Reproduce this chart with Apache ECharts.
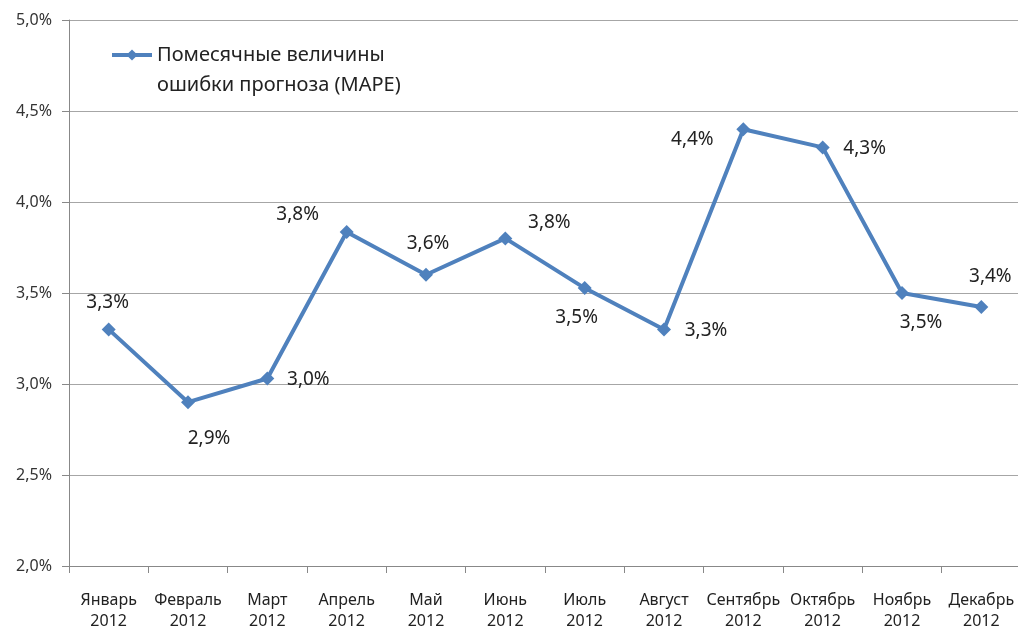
<!DOCTYPE html>
<html><head><meta charset="utf-8">
<script src="https://cdn.jsdelivr.net/npm/echarts@6/dist/echarts.min.js"></script>
<style>html,body{margin:0;padding:0;background:#fff}#c{width:1018px;height:628px}</style>
</head><body><div id="c"></div>
<script>
const months = ['Январь','Февраль','Март','Апрель','Май','Июнь','Июль','Август','Сентябрь','Октябрь','Ноябрь','Декабрь'];
const year = '2012';
const mape = [3.30, 2.90, 3.03, 3.835, 3.60, 3.80, 3.527, 3.30, 4.40, 4.30, 3.50, 3.423];
const seriesName = 'Помесячные величины\nошибки прогноза (MAPE)';
const yTicks = [2.0, 2.5, 3.0, 3.5, 4.0, 4.5, 5.0];

// label offsets from the marker centre (style only)
const labelShift = [
  [-1,-27],[21,36],[41,1],[-49,-17],[2,-31],[44,-16],
  [-8,30],[42,1],[-51,10],[42,1],[19,30],[9,-30]
];
const fmt = v => v.toFixed(1).replace('.', ',') + '%';
const FONT = 'Noto Sans';
const chart = echarts.init(document.getElementById('c'), null, {renderer:'canvas'});
chart.setOption({
  animation:false,
  textStyle:{fontFamily:FONT},
  grid:{left:69, width:952, top:20, bottom:62, containLabel:false, outerBoundsMode:'none'},
  legend:{
    left:105, top:5, orient:'vertical',
    itemWidth:40, itemHeight:14,
    data:[seriesName],
    formatter: n => ' \n' + n,
    lineStyle:{width:4},
    textStyle:{fontFamily:FONT, fontSize:20, color:'#222', lineHeight:30}
  },
  xAxis:{
    type:'category', data: months.map(m => m + '\n' + year),
    boundaryGap:true,
    axisLine:{lineStyle:{color:'#888', width:1}},
    axisTick:{show:true, length:7, lineStyle:{color:'#888'}},
    axisLabel:{interval:0, fontFamily:FONT, fontSize:16, color:'#222', lineHeight:21, margin:24},
    splitLine:{show:false}
  },
  yAxis:{
    type:'value', min:yTicks[0], max:yTicks[yTicks.length-1], interval:0.5,
    axisLine:{show:true, lineStyle:{color:'#888'}},
    axisTick:{show:true, length:7, lineStyle:{color:'#888'}},
    axisLabel:{formatter:fmt, fontFamily:FONT, fontSize:16, color:'#333', margin:17},
    splitLine:{lineStyle:{color:'#a6a6a6', width:1}}
  },
  series:[{
    name:seriesName, type:'line',
    data: mape.map((v,i)=>({value:v, label:{position:'inside', offset:labelShift[i]}})),
    symbol:'diamond', symbolSize:14,
    lineStyle:{color:'#4f81bd', width:4},
    itemStyle:{color:'#4f81bd'},
    label:{show:true, formatter:p=>fmt(p.value), fontFamily:FONT, fontSize:19, color:'#222'}
  }]
});
</script></body></html>
